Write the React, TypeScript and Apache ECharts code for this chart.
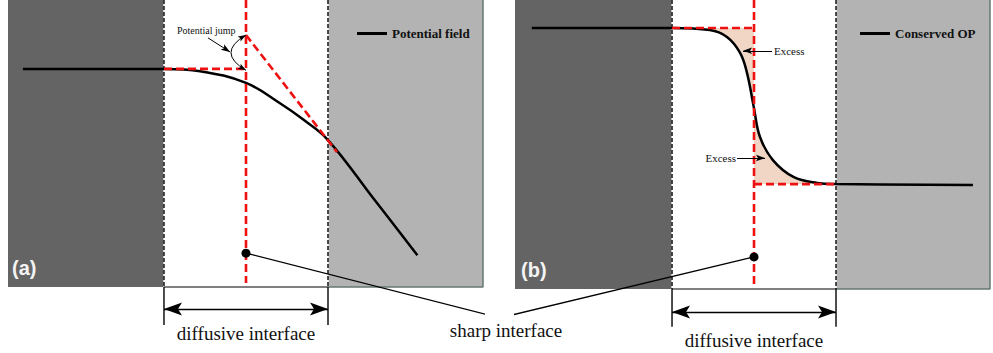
import React, { useEffect, useRef } from "react";
import * as echarts from "echarts";

// Position axis: the sharp interface sits at x = 0, the diffuse zone spans -1..1
const diffuseLeft = -1;
const diffuseRight = 1;
const xRangeA = [-2.902, 2.89];
const xRangeB = [-2.915, 2.878];
const levelMin = 0;
const levelMax = 10;

// (a) potential field across the interface
const potentialX = [-2.72, -1.0, -0.56, 0, 0.41, 0.69, 1.0, 1.55, 2.09];
const potentialY = [7.6, 7.6, 7.52, 7.11, 6.41, 5.85, 5.12, 3.1, 1.11];
const potentialPlateau = 7.6;
const potentialJumpTop = 8.78;
const tangentEnd = [1.11, 4.7];

// (b) conserved order parameter across the interface
const opX = [-2.71, -1.0, -0.54, -0.33, -0.17, -0.085, 0, 0.073, 0.23, 0.48, 0.77, 1.0, 2.67];
const opY = [9.03, 9.03, 8.96, 8.72, 8.17, 7.47, 6.25, 5.26, 4.46, 3.88, 3.67, 3.63, 3.6];
const opHigh = 9.03;
const opLow = 3.63;

// Sharp-interface markers, dimension lines and callout arrows (per panel)
const sharpDotLevel = [1.18, 1.11];
const dimensionLevel = [-0.77, -0.8];
const extensionLevel = [-1.32, -1.31];
const connectorJoin = [
  [3.1, -1.08],
  [-3.1, -1.0],
];
const jumpPointer = [
  [-0.463, 8.68],
  [-0.195, 8.19],
];
const excessPointers = [
  [
    [0.22, 8.24],
    [-0.134, 8.24],
  ],
  [
    [-0.207, 4.53],
    [0.134, 4.53],
  ],
];

const seriesNames = ["Potential field", "Conserved OP"];
const panelTags = ["(a)", "(b)"];
const bottomLabels = ["diffusive interface", "sharp interface"];
const calloutLabels = ["Potential jump", "Excess"];

const DARK = "#646464";
const LIGHT = "#b3b3b3";
const RED = "#ee1111";
const SHADE = "#f1d6c5";
const SERIF = '"Liberation Serif", "Times New Roman", serif';
const SMOOTH = 0.4;

// Arrowhead pointing up with its tip at the symbol centre (invisible moves square the box)
const ARROW = "path://M-18,-18M18,18M0,0L6.5,18L0,14L-6.5,18Z";

const pair = (xs: number[], ys: number[]) => xs.map((x, i) => [x, ys[i]]);

function seg(g: number, data: number[][], lineStyle: any, z: number) {
  return {
    type: "line",
    xAxisIndex: g,
    yAxisIndex: g,
    data,
    symbol: "none",
    showSymbol: false,
    clip: false,
    silent: true,
    z,
    lineStyle,
  };
}

function arrows(
  g: number,
  lines: number[][][],
  size: number,
  width: number,
  symbol: string[],
  curveness = 0
) {
  return {
    type: "lines",
    coordinateSystem: "cartesian2d",
    xAxisIndex: g,
    yAxisIndex: g,
    clip: false,
    silent: true,
    z: 7,
    symbol,
    symbolSize: size,
    lineStyle: { color: "#000", width, curveness, opacity: 1 },
    data: lines.map((c) => ({ coords: c })),
  };
}

function background(g: number, range: number[]) {
  return {
    type: "line",
    xAxisIndex: g,
    yAxisIndex: g,
    data: [[range[0], levelMin]],
    symbol: "none",
    lineStyle: { opacity: 0 },
    silent: true,
    z: 0,
    markArea: {
      silent: true,
      z: 0,
      data: [
        [
          { coord: [range[0], levelMin], itemStyle: { color: DARK } },
          { coord: [diffuseLeft, levelMax] },
        ],
        [
          { coord: [diffuseRight, levelMin], itemStyle: { color: LIGHT } },
          { coord: [range[1], levelMax] },
        ],
      ],
    },
  };
}

// Frame of a panel: interface boundaries, their extensions and the width dimension
function frame(g: number, range: number[]) {
  const out: any[] = [background(g, range)];
  for (const x of [diffuseLeft, diffuseRight]) {
    out.push(seg(g, [[x, levelMax], [x, levelMin]], { color: "#fff", width: 1.3 }, 1));
    out.push(seg(g, [[x, levelMax], [x, levelMin]], { color: "#000", width: 1.4, type: [4, 2] }, 2));
    out.push(seg(g, [[x, levelMin], [x, extensionLevel[g]]], { color: "#000", width: 1.4 }, 2));
  }
  out.push(seg(g, [[diffuseLeft, levelMin], [diffuseRight, levelMin]], { color: "#000", width: 1.2 }, 2));
  out.push(
    seg(
      g,
      [
        [diffuseRight, levelMin],
        [range[1], levelMin],
        [range[1], levelMax],
      ],
      { color: "#667870", width: 1.5 },
      1
    )
  );
  out.push(
    arrows(
      g,
      [
        [
          [diffuseLeft, dimensionLevel[g]],
          [diffuseRight, dimensionLevel[g]],
        ],
      ],
      36,
      1.3,
      [ARROW, ARROW]
    )
  );
  // sharp-interface dot and its connector to the shared label
  out.push({
    type: "scatter",
    xAxisIndex: g,
    yAxisIndex: g,
    data: [[0, sharpDotLevel[g]]],
    symbolSize: 9,
    itemStyle: { color: "#000", opacity: 1 },
    silent: true,
    z: 8,
  });
  out.push(seg(g, [[0, sharpDotLevel[g]], connectorJoin[g]], { color: "#000", width: 1.3 }, 7));
  return out;
}

const redStyle = { color: RED, width: 2.6, type: [8, 4] };

const opPoints = pair(opX, opY);
const upperExcess = opPoints.filter((p) => p[0] >= diffuseLeft && p[0] <= 0);
const lowerExcess = opPoints.filter((p) => p[0] >= 0 && p[0] <= diffuseRight);

const curve = (g: number, name: string, data: number[][]) => ({
  name,
  type: "line",
  xAxisIndex: g,
  yAxisIndex: g,
  data,
  smooth: SMOOTH,
  symbol: "none",
  showSymbol: false,
  color: "#000",
  lineStyle: { color: "#000", width: 2.5 },
  silent: true,
  z: 3,
});

const excessArea = (data: number[][], origin: number) => ({
  type: "line",
  xAxisIndex: 1,
  yAxisIndex: 1,
  data,
  smooth: SMOOTH,
  symbol: "none",
  lineStyle: { width: 0, opacity: 0 },
  areaStyle: { color: SHADE, opacity: 1, origin },
  silent: true,
  z: 1,
});

const series: any[] = [
  // panel (a)
  ...frame(0, xRangeA),
  curve(0, seriesNames[0], pair(potentialX, potentialY)),
  seg(0, [[0, levelMax], [0, 0.14]], redStyle, 4),
  seg(0, [[diffuseLeft, potentialPlateau], [0, potentialPlateau]], redStyle, 4),
  seg(0, [[0, potentialJumpTop], tangentEnd], redStyle, 4),
  arrows(0, [jumpPointer], 18, 1, ["none", ARROW]),
  arrows(
    0,
    [
      [
        [0, potentialJumpTop],
        [0, potentialPlateau - 0.05],
      ],
    ],
    16,
    1,
    [ARROW, ARROW],
    -0.85
  ),

  // panel (b)
  ...frame(1, xRangeB),
  excessArea(upperExcess, opHigh),
  excessArea(lowerExcess, opLow),
  curve(1, seriesNames[1], opPoints),
  seg(1, [[0, levelMax], [0, 0.14]], redStyle, 4),
  seg(1, [[diffuseLeft, opHigh], [0, opHigh]], redStyle, 4),
  seg(1, [[0, opLow], [diffuseRight, opLow]], redStyle, 4),
  arrows(1, excessPointers, 18, 1, ["none", ARROW]),
];

const legendBase = {
  orient: "horizontal",
  top: 27,
  padding: 0,
  itemGap: 0,
  itemWidth: 30,
  itemHeight: 3,
  icon: "rect",
  selectedMode: false,
  textStyle: { fontFamily: SERIF, fontWeight: "bold", fontSize: 13, color: "#111" },
};

const text = (t: string, x: number, y: number, font: string, align = "left", fill = "#111") => ({
  type: "text",
  x,
  y,
  silent: true,
  z: 20,
  style: { text: t, font, fill, align, verticalAlign: "middle" },
});

const option = {
  animation: false,
  backgroundColor: "#fff",
  grid: [
    { left: 8, top: 0, width: 475, height: 287, outerBoundsMode: "none" },
    { left: 515, top: 0, width: 475, height: 289, outerBoundsMode: "none" },
  ],
  xAxis: [
    { type: "value", gridIndex: 0, min: xRangeA[0], max: xRangeA[1], show: false },
    { type: "value", gridIndex: 1, min: xRangeB[0], max: xRangeB[1], show: false },
  ],
  yAxis: [
    { type: "value", gridIndex: 0, min: levelMin, max: levelMax, show: false },
    { type: "value", gridIndex: 1, min: levelMin, max: levelMax, show: false },
  ],
  legend: [
    { ...legendBase, left: 357, data: [seriesNames[0]] },
    { ...legendBase, left: 860, data: [seriesNames[1]] },
  ],
  graphic: [
    text(panelTags[0], 12, 268, 'bold 20px "Liberation Sans", Arial, sans-serif', "left", "#f4f4f4"),
    text(panelTags[1], 521, 270, 'bold 20px "Liberation Sans", Arial, sans-serif', "left", "#f4f4f4"),
    text(calloutLabels[0], 177, 30, `10px ${SERIF}`),
    text(calloutLabels[1], 774, 51, `11px ${SERIF}`),
    text(calloutLabels[1], 736, 158, `11px ${SERIF}`, "right"),
    text(bottomLabels[0], 246, 333, `19px ${SERIF}`, "center"),
    text(bottomLabels[0], 754, 340, `19px ${SERIF}`, "center"),
    text(bottomLabels[1], 506, 330, `19px ${SERIF}`, "center"),
  ],
  series,
};

export default function App() {
  const ref = useRef<HTMLDivElement>(null);
  useEffect(() => {
    if (!ref.current) return;
    const chart = echarts.init(ref.current, null, { renderer: "svg" });
    chart.setOption(option as any);
    return () => chart.dispose();
  }, []);
  return (
    <div
      ref={ref}
      style={{ position: "fixed", left: 0, top: 0, width: 993, height: 353, background: "#fff" }}
    />
  );
}
